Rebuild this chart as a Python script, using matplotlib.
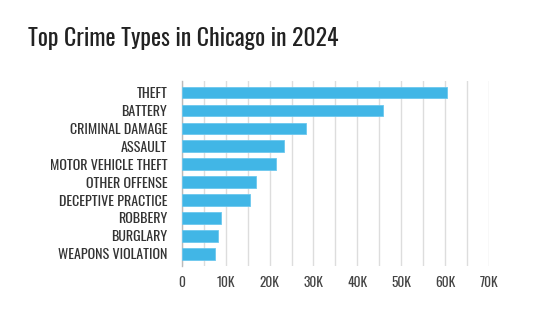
import matplotlib
matplotlib.use("Agg")
import matplotlib.pyplot as plt

categories = ["THEFT", "BATTERY", "CRIMINAL DAMAGE", "ASSAULT", "MOTOR VEHICLE THEFT",
              "OTHER OFFENSE", "DECEPTIVE PRACTICE", "ROBBERY", "BURGLARY", "WEAPONS VIOLATION"]
counts = [60300, 45900, 28400, 23300, 21500, 16900, 15600, 8950, 8200, 7650]
tick_values = [0, 10000, 20000, 30000, 40000, 50000, 60000, 70000]
tick_labels = ["0", "10K", "20K", "30K", "40K", "50K", "60K", "70K"]

plt.rcParams["font.family"] = ["Oswald", "DejaVu Sans"]

fig = plt.figure(figsize=(5.46, 3.24), dpi=100)
ax = fig.add_axes([0.3328, 0.179, 0.896 - 0.3328, 0.75 - 0.179])

ypos = list(range(len(categories)))
ax.barh(ypos, counts, height=0.65, color="#41b6e6", edgecolor="#6cc7ee", linewidth=0.6, zorder=3)

ax.set_xlim(0, 70000)
ax.set_ylim(len(categories) - 1 + 0.68, -0.64)
ax.set_xticks(tick_values)
ax.set_xticklabels(tick_labels, fontsize=9.7, color="#444444", fontweight="light")
ax.set_xticks([v + 5000 for v in tick_values[:-1]], minor=True)
ax.set_yticks(ypos)
ax.set_yticklabels(categories, fontsize=10.1, color="#333333", fontweight="light")
ax.tick_params(axis="y", length=0, pad=10.5)
ax.tick_params(axis="x", which="both", length=0, pad=7)
ax.grid(axis="x", which="both", color="#dddddd", linewidth=1, zorder=0)
for s in ["top", "right", "bottom"]:
    ax.spines[s].set_visible(False)
ax.spines["left"].set_color("#bbbbbb")
ax.spines["left"].set_linewidth(1)

fig.text(28 / 546, 1 - 39 / 324, "Top Crime Types in Chicago in 2024", fontsize=17.1,
         color="#222222", va="center", ha="left")

fig.savefig("out.png", dpi=100)
